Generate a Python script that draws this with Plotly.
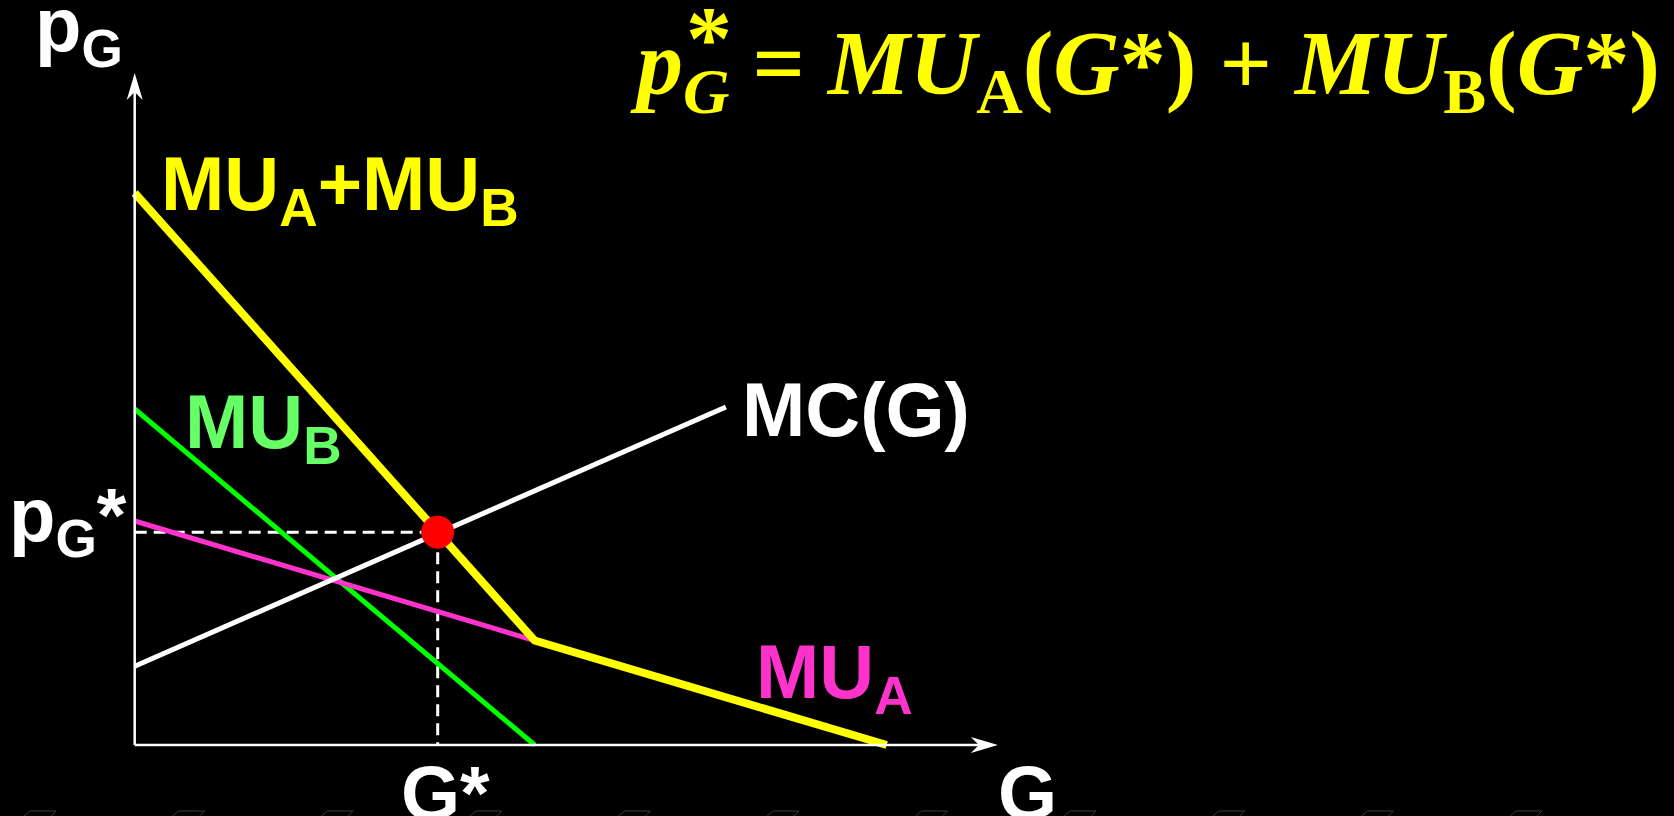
import plotly.graph_objects as go

W, H = 1674, 816
PX = 40.0               # pixels per unit, same on both axes
X0, Y0 = 134.7, 745.0   # pixel position of the origin

# curves (quantity G on x, price on y)
g_mub = [0.0, 10.0]
mu_b = [8.4, 0.0]

g_mua = [0.0, 10.0]
mu_a = [5.6, 2.61]

g_sum = [0.0, 10.0, 18.8]
mu_sum = [13.8, 2.61, 0.0]

g_mc = [0.0, 14.78]
mc = [1.97, 8.45]

g_eq = [7.575]
p_eq = [5.32]

g_axis_end = 21.58
p_axis_end = 16.8

YELLOW = "#ffff00"
GREEN_LINE = "#00ff00"
GREEN_TEXT = "#66ff66"
MAGENTA = "#ff33cc"
WHITE = "#ffffff"
RED = "#ff0000"

SANS = "Liberation Sans, Arial, sans-serif"
SERIF = "Liberation Serif, Times New Roman, serif"


def px_x(p):
    return p / W


def px_y(p):
    return 1 - p / H


def arrow_path(tx, ty, dx, dy):
    # stealth-style arrowhead with the tip at (tx, ty), pointing along (dx, dy)
    L, hw, notch = 27 / PX, 8 / PX, 19 / PX
    nx, ny = -dy, dx
    bx, by = tx - dx * L, ty - dy * L
    mx, my = tx - dx * notch, ty - dy * notch
    pts = [(tx, ty), (bx + nx * hw, by + ny * hw), (mx, my), (bx - nx * hw, by - ny * hw)]
    return "M " + " L ".join(f"{a:.4f},{b:.4f}" for a, b in pts) + " Z"


fig = go.Figure()

# dashed guides to p_G* and G*
fig.add_trace(go.Scatter(
    x=[0, g_eq[0], g_eq[0]], y=[p_eq[0], p_eq[0], 0], mode="lines",
    line=dict(color=WHITE, width=3, dash="12px,7px"), hoverinfo="skip"
))
fig.add_trace(go.Scatter(x=g_mub, y=mu_b, mode="lines", line=dict(color=GREEN_LINE, width=5)))
fig.add_trace(go.Scatter(x=g_mua, y=mu_a, mode="lines", line=dict(color=MAGENTA, width=5)))
fig.add_trace(go.Scatter(x=g_mc, y=mc, mode="lines", line=dict(color=WHITE, width=5)))
fig.add_trace(go.Scatter(x=g_sum, y=mu_sum, mode="lines", line=dict(color=YELLOW, width=8)))
fig.add_trace(go.Scatter(
    x=g_eq, y=p_eq, mode="markers",
    marker=dict(color=RED, size=33, line=dict(width=0))
))

# axes with arrowheads
fig.add_shape(type="line", x0=0, y0=0, x1=g_axis_end - 0.3, y1=0, line=dict(color=WHITE, width=2.5))
fig.add_shape(type="line", x0=0, y0=0, x1=0, y1=p_axis_end - 0.3, line=dict(color=WHITE, width=2.5))
fig.add_shape(type="path", path=arrow_path(g_axis_end, 0, 1, 0), fillcolor=WHITE, line=dict(width=0))
fig.add_shape(type="path", path=arrow_path(0, p_axis_end, 0, 1), fillcolor=WHITE, line=dict(width=0))

# faint slide artefacts along the bottom edge
for i in range(11):
    x = 20 + 148.6 * i
    fig.add_shape(
        type="path", xref="paper", yref="paper",
        path=(f"M {px_x(x + 3):.5f},{px_y(817):.5f} L {px_x(x + 10):.5f},{px_y(811):.5f} "
              f"L {px_x(x + 36):.5f},{px_y(811):.5f} L {px_x(x + 30):.5f},{px_y(817):.5f}"),
        line=dict(color="#3a3a3a", width=1)
    )


def label(text, x, y, color, size=76, family=SANS, anchor="top"):
    fig.add_annotation(
        text=text, x=px_x(x), y=px_y(y), xref="paper", yref="paper",
        xanchor="left", yanchor=anchor, showarrow=False,
        font=dict(color=color, size=size, family=family)
    )


label("<b>p<sub>G</sub></b>", 33, -20, WHITE)
label("<b>MU<sub>A</sub>+MU<sub>B</sub></b>", 159, 139, YELLOW)
label("<b>MU<sub>B</sub></b>", 183, 377, GREEN_TEXT)
label("<b>MC(G)</b>", 740, 365, WHITE)
label("<b>p<sub>G</sub>*</b>", 7, 470, WHITE)
label("<b>MU<sub>A</sub></b>", 754, 627, MAGENTA)
label("<b>G*</b>", 399, 748, WHITE)
label("<b>G</b>", 996, 748, WHITE)

label("<b><i>p</i><sub><i>G</i></sub> = <i>MU</i><sub>A</sub>(<i>G</i>*) + <i>MU</i><sub>B</sub>(<i>G</i>*)</b>",
      628, 10, YELLOW, size=92, family=SERIF)
label("<b>*</b>", 684, -15, YELLOW, size=92, family=SERIF)

fig.update_layout(
    width=W, height=H,
    margin=dict(l=0, r=0, t=0, b=0),
    paper_bgcolor="#000000", plot_bgcolor="#000000",
    showlegend=False,
    xaxis=dict(range=[-X0 / PX, (W - X0) / PX], visible=False, fixedrange=True),
    yaxis=dict(range=[(Y0 - H) / PX, Y0 / PX], visible=False, fixedrange=True),
)

fig.write_html(
    "out.html",
    config={"displayModeBar": False},
    post_script="document.body.style.margin='0';document.body.style.overflow='hidden';"
)
